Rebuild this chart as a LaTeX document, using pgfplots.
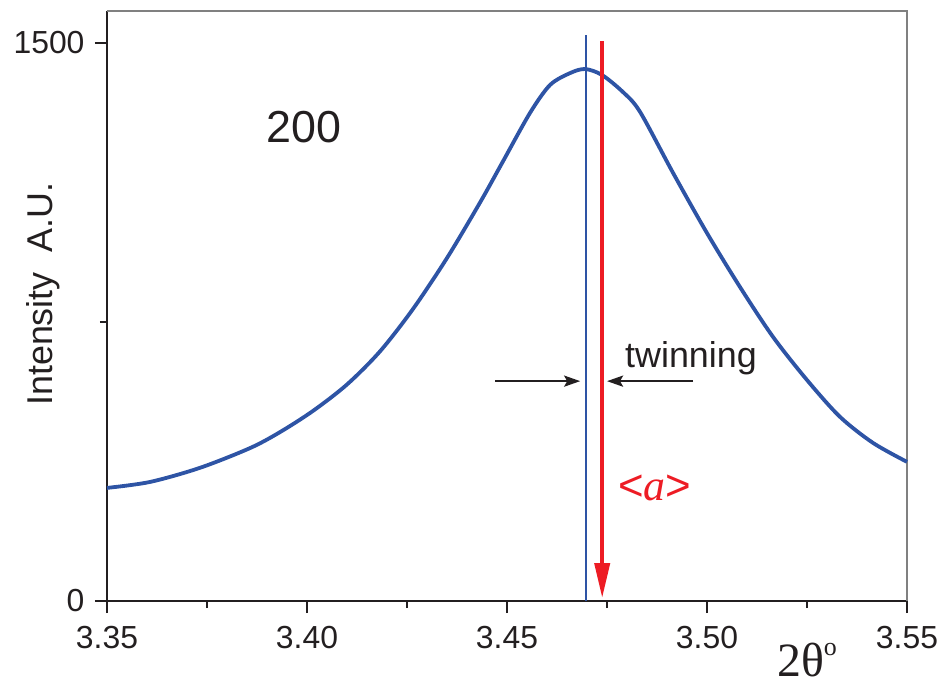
\documentclass[border=0pt]{standalone}
\usepackage{fontspec}
\setmainfont{Liberation Sans}
\newfontfamily\tnr{Liberation Serif}
\usepackage{pgfplots}
\pgfplotsset{compat=1.18}
\usetikzlibrary{arrows.meta}
\definecolor{curveblue}{RGB}{46,84,165}
\definecolor{ared}{RGB}{237,28,36}
\definecolor{axblack}{RGB}{35,31,32}
\begin{document}
\begin{tikzpicture}
\begin{axis}[
  scale only axis, width=800bp, height=590bp,
  xmin=3.35, xmax=3.55, ymin=0, ymax=1586,
  axis lines*=left,
  axis line style={axblack, line width=1.8bp},
  xtick={3.35,3.40,3.45,3.50,3.55},
  minor xtick={3.375,3.425,3.475,3.525},
  ytick={0,1500}, minor ytick={750},
  tick align=outside,
  major tick length=12bp, minor tick length=7bp,
  every tick/.style={axblack, line width=1.8bp},
  /pgf/number format/assume math mode=true,
  ticklabel style={font=\fontsize{32}{36}\selectfont, text=axblack},
  xticklabel style={yshift=-10bp, /pgf/number format/.cd, fixed, fixed zerofill, precision=2},
  yticklabel style={xshift=-7bp, /pgf/number format/.cd, 1000 sep={}},
  clip=false,
]
\draw[gray, line width=1.2bp] (rel axis cs:0,1) -- (rel axis cs:1,1) -- (rel axis cs:1,0);

\addplot[curveblue, line width=3.8bp, smooth] coordinates {
(3.35000,304) (3.36075,320) (3.37325,358) (3.38575,411) (3.39325,454)
(3.40150,511) (3.41000,582) (3.41825,671) (3.42650,785) (3.43500,922)
(3.44325,1071) (3.44875,1177) (3.45575,1312) (3.46075,1387) (3.46575,1419)
(3.46950,1430) (3.47375,1414) (3.47900,1368) (3.48325,1315) (3.49150,1151)
(3.50000,989) (3.50825,844) (3.51650,710) (3.52500,594) (3.53325,495)
(3.54150,425) (3.55000,374)
};

\addplot[curveblue, line width=2.5bp] coordinates {(3.4697,0) (3.4697,1521)};
\addplot[ared, line width=4bp, -{Triangle[length=35bp, width=15bp]}] coordinates {(3.4738,1505) (3.4738,8)};

\addplot[axblack, line width=2.5bp, -{Stealth[length=16bp, width=11bp, inset=3bp]}] coordinates {(3.4470,591) (3.4683,591)};
\addplot[axblack, line width=2.5bp, -{Stealth[length=16bp, width=11bp, inset=3bp]}] coordinates {(3.4965,591) (3.4750,591)};

\node[anchor=center, font=\fontsize{45}{50}\selectfont, text=axblack] at (axis cs:3.39925,1274) {200};
\node[anchor=base west, inner sep=0, font=\fontsize{36}{40}\selectfont, text=axblack] at (axis cs:3.4795,629) {twinning};
\node[anchor=base west, inner sep=0, text=ared, font=\fontsize{44}{48}\selectfont] at (axis cs:3.47775,269) {<{\tnr\itshape a}>};

\node[rotate=90, anchor=base, inner sep=0, font=\fontsize{36}{40}\selectfont, text=axblack] at (axis description cs:-0.0675,0.52) {Intensity\ \ A.U.};
\node[anchor=base, inner sep=0, text depth=0pt, font=\fontsize{48}{52}\selectfont, text=axblack] at (axis description cs:0.875,-0.128) {\tnr 2θ\raisebox{21bp}{\fontsize{26}{28}\selectfont o}};
\end{axis}
\pgfresetboundingbox
\path[use as bounding box] ([shift={(-107bp,-82bp)}]current axis.south west) rectangle ([shift={(842bp,601bp)}]current axis.south west);
\end{tikzpicture}
\end{document}
